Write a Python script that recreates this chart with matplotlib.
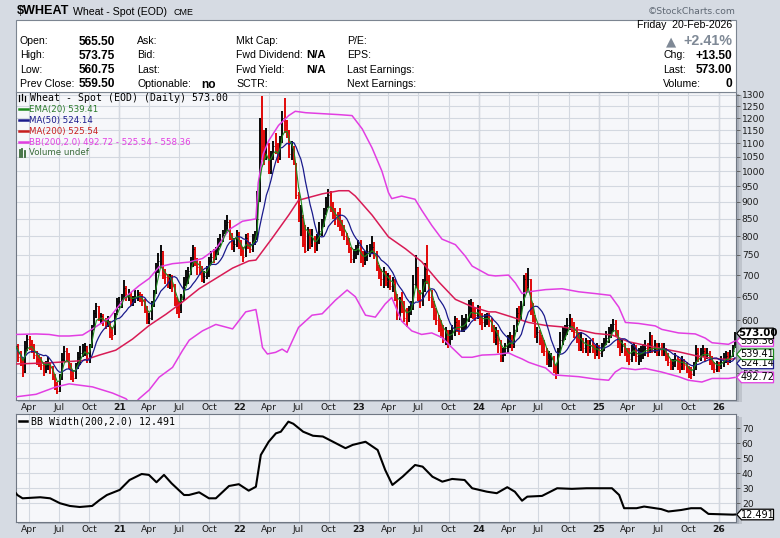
import matplotlib
matplotlib.use('Agg')
import matplotlib.pyplot as plt
import matplotlib.dates as mdates
from matplotlib.patches import Rectangle, Polygon
from matplotlib.lines import Line2D
from matplotlib.ticker import FixedLocator, NullLocator, FuncFormatter
import numpy as np
import pandas as pd

# ---------------- data (weekly bars) ----------------
week_start, week_end = '2020-02-21', '2026-02-20'

close = [548, 528, 522, 505, 545, 562, 552, 548, 532, 525, 520, 515, 505, 512, 518, 510, 495, 480, 470, 490,
         525, 540, 530, 515, 495, 492, 510, 528, 535, 545, 548, 525, 545, 580, 615, 630, 605, 608, 598, 592,
         598, 575, 570, 610, 640,
         640, 645, 670, 650, 660, 638, 645, 650, 655, 648, 640, 625, 600, 605, 630, 660, 720, 735, 760, 700,
         695, 688, 690, 675, 640, 628, 618, 645, 680, 695, 710, 735, 765, 740, 720, 718, 692, 698, 710, 735,
         745, 740, 760, 780, 790, 810, 830, 840, 800, 775, 780, 810, 775,
         760, 745, 795, 775, 765, 790, 800, 850, 1180, 1090, 1065, 1100, 1005, 1050, 1090, 1085, 1050, 1110, 1200, 1170,
         1145, 1060, 1080, 1030, 920, 850, 855, 780, 760, 810, 780, 795, 765, 790, 815, 830, 865, 900, 920, 885,
         860, 850, 840, 830, 815, 800, 790, 765, 740, 750, 760, 775,
         740, 735, 745, 760, 760, 770, 750, 720, 700, 690, 700, 685, 690, 675, 680, 650, 610, 640, 630, 605,
         600, 620, 625, 680, 720, 650, 640, 670, 715, 690, 650, 640, 610, 600, 590, 580, 565, 570, 555, 570,
         575, 595, 590, 585, 590, 590, 600, 625, 630, 615, 610, 620,
         600, 595, 600, 605, 600, 585, 565, 570, 555, 530, 535, 545, 560, 560, 550, 580, 615, 610, 630, 690,
         675, 690, 620, 610, 570, 575, 565, 550, 540, 525, 525, 525, 505, 500, 540, 560, 575, 580, 590, 600,
         590, 575, 570, 545, 560, 545, 550, 545, 550, 545, 535, 545,
         535, 540, 555, 565, 570, 580, 592, 580, 555, 540, 548, 540, 530, 525, 540, 545, 530, 530, 535, 540,
         545, 540, 550, 540, 550, 540, 545, 540, 545, 530, 520, 515, 515, 525, 520, 515, 520, 515, 510, 500,
         498, 510, 535, 530, 535, 540, 532, 535, 525, 515, 508, 512,
         510, 520, 525, 530, 525, 530, 540, 573]

high = [560, 552, 540, 525, 558, 570, 568, 560, 552, 540, 532, 528, 520, 522, 528, 520, 512, 498, 485, 498,
        535, 548, 545, 535, 518, 505, 518, 538, 548, 553, 555, 548, 552, 590, 622, 636, 630, 615, 612, 605,
        608, 598, 585, 615, 648,
        650, 655, 688, 675, 668, 660, 652, 664, 664, 660, 655, 645, 630, 615, 640, 666, 730, 755, 775, 760,
        715, 702, 702, 700, 680, 650, 640, 655, 695, 712, 720, 745, 775, 770, 742, 735, 722, 710, 722, 745,
        760, 765, 772, 795, 805, 818, 845, 860, 845, 808, 795, 818, 812,
        790, 770, 805, 810, 785, 805, 815, 935, 1200, 1294, 1150, 1160, 1100, 1070, 1110, 1140, 1100, 1130, 1230, 1284,
        1190, 1150, 1110, 1090, 1030, 930, 890, 860, 830, 825, 820, 820, 800, 805, 840, 850, 880, 915, 940, 935,
        900, 880, 870, 880, 845, 830, 810, 795, 770, 765, 775, 790,
        790, 760, 760, 775, 780, 800, 785, 760, 725, 715, 720, 710, 705, 700, 695, 690, 655, 650, 660, 640,
        625, 630, 640, 700, 750, 720, 665, 690, 730, 775, 700, 665, 640, 625, 610, 600, 590, 585, 580, 580,
        590, 608, 605, 600, 610, 605, 612, 642, 645, 638, 628, 632,
        630, 615, 612, 615, 615, 605, 590, 585, 580, 560, 545, 555, 570, 575, 570, 590, 625, 630, 640, 700,
        705, 718, 690, 635, 610, 585, 580, 570, 560, 545, 540, 535, 530, 515, 545, 575, 585, 590, 605, 612,
        605, 595, 585, 575, 575, 565, 565, 560, 560, 565, 550, 555,
        550, 555, 565, 578, 585, 592, 602, 600, 580, 560, 560, 555, 545, 545, 550, 555, 550, 545, 548, 552,
        560, 555, 576, 570, 560, 555, 555, 555, 555, 545, 535, 525, 525, 535, 530, 525, 530, 525, 520, 512,
        510, 520, 550, 545, 545, 550, 545, 545, 540, 530, 520, 522,
        520, 530, 535, 540, 538, 542, 550, 576]

low = [535, 520, 512, 494, 500, 540, 542, 536, 525, 515, 510, 505, 495, 500, 506, 498, 488, 472, 465, 468,
       488, 520, 520, 508, 488, 485, 490, 508, 515, 528, 530, 518, 518, 545, 580, 605, 598, 592, 588, 582,
       585, 565, 560, 570, 610,
       625, 625, 645, 640, 640, 630, 630, 636, 640, 638, 630, 615, 592, 592, 600, 628, 655, 705, 720, 690,
       680, 670, 668, 660, 630, 612, 604, 615, 640, 675, 680, 700, 720, 722, 700, 700, 684, 682, 690, 695,
       725, 730, 738, 750, 770, 785, 805, 808, 790, 762, 758, 770, 765,
       748, 732, 745, 765, 755, 758, 775, 790, 900, 1040, 1020, 1040, 990, 990, 1040, 1060, 1030, 1040, 1100, 1140,
       1120, 1045, 1040, 1020, 910, 840, 800, 770, 755, 760, 765, 770, 755, 760, 780, 800, 825, 860, 880, 870,
       850, 830, 825, 815, 800, 790, 775, 755, 730, 730, 740, 750,
       730, 720, 725, 735, 745, 755, 740, 710, 690, 675, 670, 675, 670, 665, 660, 640, 600, 600, 615, 595,
       585, 595, 610, 620, 670, 640, 625, 630, 660, 680, 640, 625, 600, 590, 575, 565, 555, 550, 545, 550,
       560, 568, 575, 570, 575, 575, 582, 595, 605, 602, 598, 602,
       590, 580, 585, 590, 585, 575, 555, 550, 535, 520, 520, 530, 535, 545, 540, 545, 575, 595, 600, 630,
       660, 665, 610, 595, 565, 555, 550, 535, 530, 515, 510, 510, 500, 490, 498, 535, 550, 560, 570, 580,
       575, 565, 555, 540, 540, 535, 535, 530, 535, 535, 525, 530,
       525, 528, 540, 550, 555, 565, 575, 568, 545, 530, 535, 530, 520, 515, 520, 530, 520, 515, 520, 525,
       530, 528, 535, 535, 535, 530, 530, 530, 530, 522, 512, 505, 505, 510, 505, 500, 505, 505, 500, 492,
       490, 495, 505, 520, 522, 528, 522, 525, 515, 505, 500, 502,
       502, 508, 510, 518, 515, 518, 528, 545]

# MA(200) = BB middle
ma200_dates = ['2020-02-21', '2020-06-01', '2020-09-11', '2020-11-01', '2020-12-21', '2021-02-10', '2021-04-02',
               '2021-05-23', '2021-07-12', '2021-09-01', '2021-10-22', '2021-12-12', '2022-01-31', '2022-02-21',
               '2022-04-12', '2022-06-01', '2022-07-01', '2022-09-11', '2022-11-01', '2022-12-01', '2022-12-21',
               '2023-02-10', '2023-04-01', '2023-05-23', '2023-07-11', '2023-09-01', '2023-10-22', '2023-12-12',
               '2024-01-31', '2024-02-21', '2024-04-12', '2024-06-01', '2024-07-23', '2024-09-11', '2024-11-01',
               '2024-12-21', '2025-02-10', '2025-04-01', '2025-05-23', '2025-07-11', '2025-09-01', '2025-10-22',
               '2025-12-12', '2026-01-31', '2026-02-20']
ma200_vals = [516, 518, 522, 532, 541, 562, 589, 612, 638, 668, 692, 717, 735, 737,
              795, 860, 905, 925, 935, 935, 918, 860, 798, 766, 733, 684, 644, 628,
              617, 617, 606, 595, 589, 586, 580, 573, 570, 557, 550, 544, 538, 531,
              526, 524, 525.54]

bb_upper_dates = ['2020-02-21', '2020-04-22', '2020-06-01', '2020-07-01', '2020-08-01', '2020-09-11', '2020-10-11',
                  '2020-12-01', '2021-01-21', '2021-03-02', '2021-04-02', '2021-05-02', '2021-06-12', '2021-08-02',
                  '2021-09-11', '2021-10-22', '2021-12-01', '2022-01-11', '2022-02-21', '2022-02-28', '2022-03-15',
                  '2022-04-01', '2022-05-01', '2022-06-01', '2022-06-21', '2022-07-23', '2022-09-11', '2022-11-01',
                  '2022-12-11', '2023-01-11', '2023-02-10', '2023-03-12', '2023-04-01', '2023-04-11', '2023-05-11',
                  '2023-06-21', '2023-07-11', '2023-08-11', '2023-09-11', '2023-10-22', '2023-11-21', '2023-12-12',
                  '2024-01-31', '2024-02-21', '2024-04-01', '2024-04-22', '2024-05-12', '2024-06-01', '2024-07-23',
                  '2024-09-11', '2024-11-01', '2024-12-21', '2025-02-05', '2025-03-03', '2025-03-23', '2025-05-02',
                  '2025-06-22', '2025-07-12', '2025-09-01', '2025-10-22', '2025-11-21', '2025-12-12', '2026-01-31',
                  '2026-02-20']
bb_upper_vals = [571, 572, 571, 568, 568, 570, 582, 604, 650, 675, 692, 720, 728, 732,
                 741, 766, 818, 842, 849, 960, 1060, 1110, 1170, 1210, 1228, 1222, 1218, 1214,
                 1210, 1156, 1083, 1000, 929, 910, 918, 908, 875, 830, 792, 777, 747, 722,
                 700, 698, 700, 681, 657, 661, 666, 668, 661, 657, 653, 627, 595, 593,
                 588, 581, 574, 572, 564, 555, 552, 558.36]

bb_lower_dates = ['2020-02-21', '2020-04-22', '2020-06-22', '2020-08-01', '2020-10-11', '2020-12-11', '2021-01-21',
                  '2021-02-10', '2021-03-02', '2021-04-02', '2021-05-02', '2021-06-12', '2021-07-12', '2021-08-02',
                  '2021-09-11', '2021-10-22', '2021-12-12', '2022-01-21', '2022-02-21', '2022-03-03', '2022-03-13',
                  '2022-03-28', '2022-04-22', '2022-05-12', '2022-05-27', '2022-07-01', '2022-08-11', '2022-09-11',
                  '2022-10-21', '2022-11-26', '2022-12-21', '2023-01-21', '2023-02-20', '2023-03-22', '2023-04-11',
                  '2023-05-11', '2023-06-11', '2023-07-11', '2023-08-11', '2023-09-11', '2023-10-11', '2023-11-11',
                  '2023-12-12', '2024-01-11', '2024-02-21', '2024-04-01', '2024-04-22', '2024-05-12', '2024-06-01',
                  '2024-07-01', '2024-07-23', '2024-08-16', '2024-09-11', '2024-11-01', '2024-12-21', '2025-01-31',
                  '2025-02-20', '2025-03-12', '2025-04-22', '2025-05-23', '2025-07-11', '2025-09-01', '2025-10-01',
                  '2025-11-11', '2025-12-12', '2026-01-31', '2026-02-20']
bb_lower_vals = [461, 465, 477, 482, 477, 467, 458, 447, 458, 472, 493, 510, 540, 560,
                 578, 591, 582, 617, 622, 585, 546, 534, 537, 543, 537, 585, 610, 613,
                 642, 665, 650, 610, 606, 634, 648, 598, 578, 571, 574, 565, 546, 528,
                 528, 532, 533, 536, 530, 525, 519, 513, 509, 497, 496, 494, 490, 488,
                 502, 509, 506, 508, 502, 494, 488, 485, 491, 491, 492.72]

bbw_dates = ['2020-02-21', '2020-02-25', '2020-03-12', '2020-05-05', '2020-06-04', '2020-07-04', '2020-08-03',
             '2020-09-02', '2020-10-10', '2020-11-02', '2020-11-24', '2021-01-02', '2021-02-01', '2021-03-10',
             '2021-04-01', '2021-04-24', '2021-05-17', '2021-06-09', '2021-07-17', '2021-08-01', '2021-09-01',
             '2021-10-01', '2021-10-22', '2021-12-01', '2021-12-31', '2022-01-30', '2022-02-21', '2022-03-08',
             '2022-04-01', '2022-04-23', '2022-05-08', '2022-05-31', '2022-06-15', '2022-07-15', '2022-08-14',
             '2022-09-13', '2022-10-14', '2022-11-21', '2022-12-13', '2023-01-21', '2023-02-27', '2023-03-22',
             '2023-04-13', '2023-05-14', '2023-06-21', '2023-07-14', '2023-08-13', '2023-09-12', '2023-10-12',
             '2023-11-19', '2023-12-12', '2024-01-26', '2024-02-25', '2024-03-28', '2024-04-20', '2024-05-12',
             '2024-05-28', '2024-07-12', '2024-08-27', '2024-10-11', '2024-11-25', '2025-02-10', '2025-03-04',
             '2025-03-19', '2025-04-26', '2025-05-19', '2025-07-10', '2025-08-01', '2025-09-09', '2025-10-09',
             '2025-11-08', '2025-12-01', '2026-02-14', '2026-02-20']
bbw_vals = [26.7, 25.5, 23.3, 24.0, 23.3, 20.0, 18.2, 17.5, 18.2, 22.2, 25.5, 28.9, 35.5, 39.5,
            38.9, 34.0, 38.9, 33.3, 25.5, 25.5, 27.3, 23.3, 23.3, 31.5, 32.7, 28.4, 31.0, 52.2,
            61.0, 66.6, 67.7, 74.4, 73.0, 67.7, 65.0, 64.5, 61.0, 56.7, 58.9, 61.0, 55.5, 42.2,
            32.2, 37.7, 45.5, 44.4, 37.7, 34.4, 36.2, 35.5, 30.0, 27.7, 26.7, 30.7, 27.7, 21.7,
            24.4, 24.9, 30.0, 29.6, 30.0, 30.0, 25.5, 16.7, 16.7, 17.8, 16.1, 14.5, 15.5, 16.7,
            16.7, 12.9, 12.4, 12.491]

price_grid = [500, 550, 600, 650, 700, 750, 800, 850, 900, 950, 1000, 1050, 1100, 1150, 1200, 1250, 1300]
price_labels = [500, 600, 650, 700, 750, 800, 850, 900, 950, 1000, 1050, 1100, 1150, 1200, 1250, 1300]
bbw_ticks = [20, 30, 40, 50, 60, 70]

last_close, last_ema20, last_ma50, last_ma200 = 573.00, 539.41, 524.14, 525.54
last_bb_low, last_bb_up, last_bbw = 492.72, 558.36, 12.491

info_col1 = [('Open:', '565.50'), ('High:', '573.75'), ('Low:', '560.75'), ('Prev Close:', '559.50')]
info_col2 = ['Ask:', 'Bid:', 'Last:', 'Optionable:']
info_col3 = [('Mkt Cap:', ''), ('Fwd Dividend:', 'N/A'), ('Fwd Yield:', 'N/A'), ('SCTR:', '')]
info_col4 = ['P/E:', 'EPS:', 'Last Earnings:', 'Next Earnings:']
info_right = [('Chg:', '+13.50'), ('Last:', '573.00'), ('Volume:', '0')]

# ---------------- styling ----------------
W, H = 780, 538
BG = '#d6dbe3'
PLOT_BG = '#f6f7fa'
GRID = '#d3d8e0'
YEARGRID = '#b8bec8'
SPINE = '#6f7783'
C_UP, C_DN = '#000000', '#e00000'
C_EMA, C_MA50, C_MA200, C_BB = '#1d8a1d', '#1a1a8c', '#d81b55', '#e23ee2'
C_EMA_T, C_MA200_T = '#2a7a2a', '#c81e1e'

plt.rcParams['font.family'] = ['DejaVu Sans']
INFO_FONT = ['Liberation Sans', 'DejaVu Sans']

fig = plt.figure(figsize=(W / 100, H / 100), dpi=100)
fig.patch.set_facecolor(BG)


def ftext(x, y, s, **kw):
    kw.setdefault('va', 'center')
    return fig.text(x / W, 1 - y / H, s, **kw)


# shadows to the right / under the panels
for (x0, y0, w, h, c) in [(736.5, 94, 2.5, 308, '#a9afb9'), (739, 95, 2.5, 307, '#bfc4cc'),
                          (18, 400, 721, 2.2, '#aeb4be'),
                          (736.5, 416, 2.5, 108, '#a9afb9'), (739, 417, 2.5, 107, '#bfc4cc'),
                          (18, 522, 721, 2.2, '#aeb4be')]:
    fig.add_artist(Rectangle((x0 / W, 1 - (y0 + h) / H), w / W, h / H, transform=fig.transFigure,
                             fc=c, ec='none', zorder=-1))

ax = fig.add_axes([16 / W, 1 - 400 / H, 720 / W, 308 / H])
ax2 = fig.add_axes([16 / W, 1 - 522 / H, 720 / W, 108 / H])

dates = pd.date_range(week_start, week_end, freq='W-FRI')
xd = mdates.date2num(dates)
c = np.array(close, float)
hi = np.array(high, float)
lo = np.array(low, float)
prev = np.r_[c[0], c[:-1]]
cols = np.where(c >= prev, C_UP, C_DN)

xmin = mdates.date2num(pd.Timestamp('2020-02-21'))
xmax = mdates.date2num(pd.Timestamp('2026-02-23'))
quarters = pd.date_range('2020-04-01', '2026-01-01', freq='QS-JAN')
qx = mdates.date2num(quarters)
qlabels = [f"{d.year % 100:02d}" if d.month == 1 else d.strftime('%b') for d in quarters]

for a in (ax, ax2):
    a.set_facecolor(PLOT_BG)
    a.set_xlim(xmin, xmax)
    a.set_xticks(qx)
    a.set_xticklabels(qlabels)
    for lab, d in zip(a.get_xticklabels(), quarters):
        if d.month == 1:
            lab.set_fontweight('bold')
    a.tick_params(axis='x', length=0, pad=2.2, labelsize=6.6, colors='#1a1a1a')
    a.yaxis.tick_right()
    a.tick_params(axis='y', which='major', length=3, width=0.6, pad=1.2, labelsize=6.6,
                  color='#555555', labelcolor='#1a1a1a')
    a.grid(True, which='major', axis='x', color=GRID, lw=0.8, zorder=0)
    a.set_axisbelow(True)
    for d, xv in zip(quarters, qx):
        if d.month == 1:
            a.axvline(xv, color=YEARGRID, lw=0.9, zorder=0.5)
    for sp in a.spines.values():
        sp.set_color(SPINE)
        sp.set_linewidth(0.8)

# ---- price panel ----
ax.set_yscale('log')
ax.set_ylim(456, 1312)
ax.yaxis.set_major_locator(FixedLocator(price_labels))
ax.yaxis.set_minor_locator(NullLocator())
ax.yaxis.set_major_formatter(FuncFormatter(lambda v, p: f"{v:.0f}"))
for g in price_grid:
    ax.axhline(g, color=GRID, lw=0.8, zorder=0.4)

ax.vlines(xd, lo, hi, colors=cols, lw=1.35, zorder=2)
ax.hlines(c, xd, xd + 2.6, colors=cols, lw=0.7, zorder=2)

s = pd.Series(c, index=dates)
ema20 = s.ewm(span=4, adjust=False).mean()
ma50 = s.rolling(10, min_periods=1).mean()

ax.plot(mdates.date2num(pd.to_datetime(bb_upper_dates)), bb_upper_vals, color=C_BB, lw=1.1, zorder=3)
ax.plot(mdates.date2num(pd.to_datetime(bb_lower_dates)), bb_lower_vals, color=C_BB, lw=1.1, zorder=3)
ax.plot(mdates.date2num(pd.to_datetime(ma200_dates)), ma200_vals, color=C_MA200, lw=1.1, zorder=3)
ax.plot(xd, ma50.values, color=C_MA50, lw=0.9, zorder=4)
ax.plot(xd, ema20.values, color=C_EMA, lw=0.8, zorder=4)

# ---- BB width panel ----
ax2.set_ylim(7.5, 79.5)
ax2.yaxis.set_major_locator(FixedLocator(bbw_ticks))
ax2.yaxis.set_major_formatter(FuncFormatter(lambda v, p: f"{v:.0f}"))
ax2.grid(True, which='major', axis='y', color=GRID, lw=0.8, zorder=0)
ax2.plot(mdates.date2num(pd.to_datetime(bbw_dates)), bbw_vals, color='black', lw=1.5, zorder=3)

# ---------------- header ----------------
ftext(16.5, 11.5, '$WHEAT', fontsize=9.1, fontweight='bold', family=INFO_FONT, parse_math=False)
ftext(73, 12, 'Wheat - Spot (EOD)', fontsize=7.6, family=INFO_FONT)
ftext(174, 12.5, 'CME', fontsize=6.4, family=INFO_FONT)
ftext(736, 11, '\u00a9StockCharts.com', fontsize=6.7, color='#5f6874', ha='right')

fig.add_artist(Rectangle((16 / W, 1 - 91.5 / H), 720 / W, 71.5 / H, transform=fig.transFigure,
                         fc='white', ec='#7c8591', lw=0.8, zorder=1))

rows = [41.5, 55.5, 70, 84]
for (lab, val), y in zip(info_col1, rows):
    ftext(20, y, lab, fontsize=7.6, family=INFO_FONT, zorder=2)
    ftext(115, y + 0.3, val, fontsize=8.6, fontweight='bold', family=INFO_FONT, ha='right', zorder=2)
for lab, y in zip(info_col2, rows):
    ftext(137, y, lab, fontsize=7.6, family=INFO_FONT, zorder=2)
ftext(201, rows[3] + 0.5, 'no', fontsize=8.6, fontweight='bold', family=INFO_FONT, zorder=2)
for (lab, val), y in zip(info_col3, rows):
    ftext(236, y, lab, fontsize=7.6, family=INFO_FONT, zorder=2)
    if val:
        ftext(326, y, val, fontsize=8.2, fontweight='bold', family=INFO_FONT, ha='right', zorder=2)
for lab, y in zip(info_col4, rows):
    ftext(347, y, lab, fontsize=7.6, family=INFO_FONT, zorder=2)

ftext(732, 25.5, 'Friday  20-Feb-2026', fontsize=7.6, family=INFO_FONT, ha='right', zorder=2)
ftext(666, 41.5, '\u25b2', fontsize=9.5, color='#7f8996', family=['DejaVu Sans'], zorder=2)
ftext(732, 41.5, '+2.41%', fontsize=10.3, fontweight='bold', color='#7f8996', family=INFO_FONT,
      ha='right', zorder=2)
for (lab, val), y in zip(info_right, rows[1:]):
    ftext(663, y, lab, fontsize=7.6, family=INFO_FONT, zorder=2)
    ftext(732, y + 0.3, val, fontsize=8.6, fontweight='bold', family=INFO_FONT, ha='right', zorder=2)

# ---------------- in-panel legends ----------------
for (xx, y0, y1) in [(19, 95, 101), (22, 94, 100), (25, 96, 101)]:
    fig.add_artist(Line2D([xx / W, xx / W], [1 - y1 / H, 1 - y0 / H], color='black', lw=0.9,
                          transform=fig.transFigure, zorder=5))
ftext(30, 98, f'Wheat - Spot (EOD) (Daily) {last_close:.2f}', fontsize=7.1, family=['DejaVu Sans Mono'],
      zorder=5)
legend_rows = [(109.3, C_EMA_T, C_EMA, f'EMA(20) {last_ema20:.2f}'),
               (120.3, C_MA50, C_MA50, f'MA(50) {last_ma50:.2f}'),
               (131.3, C_MA200_T, C_MA200_T, f'MA(200) {last_ma200:.2f}'),
               (142.0, C_BB, C_BB, f'BB(200,2.0) {last_bb_low:.2f} - {last_ma200:.2f} - {last_bb_up:.2f}')]
for y, tc, lc, txt in legend_rows:
    fig.add_artist(Line2D([19 / W, 28 / W], [1 - y / H, 1 - y / H], color=lc, lw=1.8,
                          transform=fig.transFigure, zorder=5))
    ftext(29.5, y, txt, fontsize=6.2, color=tc, zorder=5)
for (xx, y0) in [(19.5, 150), (22, 148.5), (24.5, 151)]:
    fig.add_artist(Line2D([xx / W, xx / W], [1 - 157 / H, 1 - y0 / H], color='#3a6b3a', lw=1.3,
                          transform=fig.transFigure, zorder=5))
ftext(29.5, 152.7, 'Volume undef', fontsize=6.2, color='#3a6b3a', zorder=5)

fig.add_artist(Line2D([19 / W, 27 / W], [1 - 421 / H, 1 - 421 / H], color='black', lw=1.8,
                      transform=fig.transFigure, zorder=5))
ftext(31, 421, f'BB Width(200,2.0) {last_bbw:.3f}', fontsize=7.1, family=['DejaVu Sans Mono'], zorder=5)


# ---------------- right-hand value tags ----------------
def tag(axis, value, text, ec, tc='black', dy=0.0, weight='normal', z=10, size=7.0):
    _, yd = axis.transData.transform((axis.get_xlim()[1], value))
    yd = yd - dy
    xt, xb, xr, hh = 736.8, 741.5, 773.5, 5.3
    pts = [(xt, yd), (xb, yd + hh), (xr, yd + hh), (xr, yd - hh), (xb, yd - hh)]
    fig.add_artist(Polygon([(px / W, py / H) for px, py in pts], closed=True, transform=fig.transFigure,
                           fc='white', ec=ec, lw=0.9, zorder=z))
    fig.text((xb + xr) / 2 / W, yd / H, text, ha='center', va='center', fontsize=size, color=tc,
             fontweight=weight, zorder=z + 0.5)


tag(ax, last_bb_low, f'{last_bb_low:.2f}', C_BB, z=10)
tag(ax, last_ma50, f'{last_ma50:.2f}', C_MA50, dy=4.0, z=11)
tag(ax, last_ema20, f'{last_ema20:.2f}', C_EMA, dy=3.2, z=12)
tag(ax, last_bb_up, f'{last_bb_up:.2f}', C_BB, z=13)
tag(ax, last_close, f'{last_close:.2f}', 'black', weight='bold', z=14, size=7.4)
tag(ax2, last_bbw, f'{last_bbw:.3f}', 'black', z=10)

fig.savefig('out.png', dpi=100, facecolor=BG)
